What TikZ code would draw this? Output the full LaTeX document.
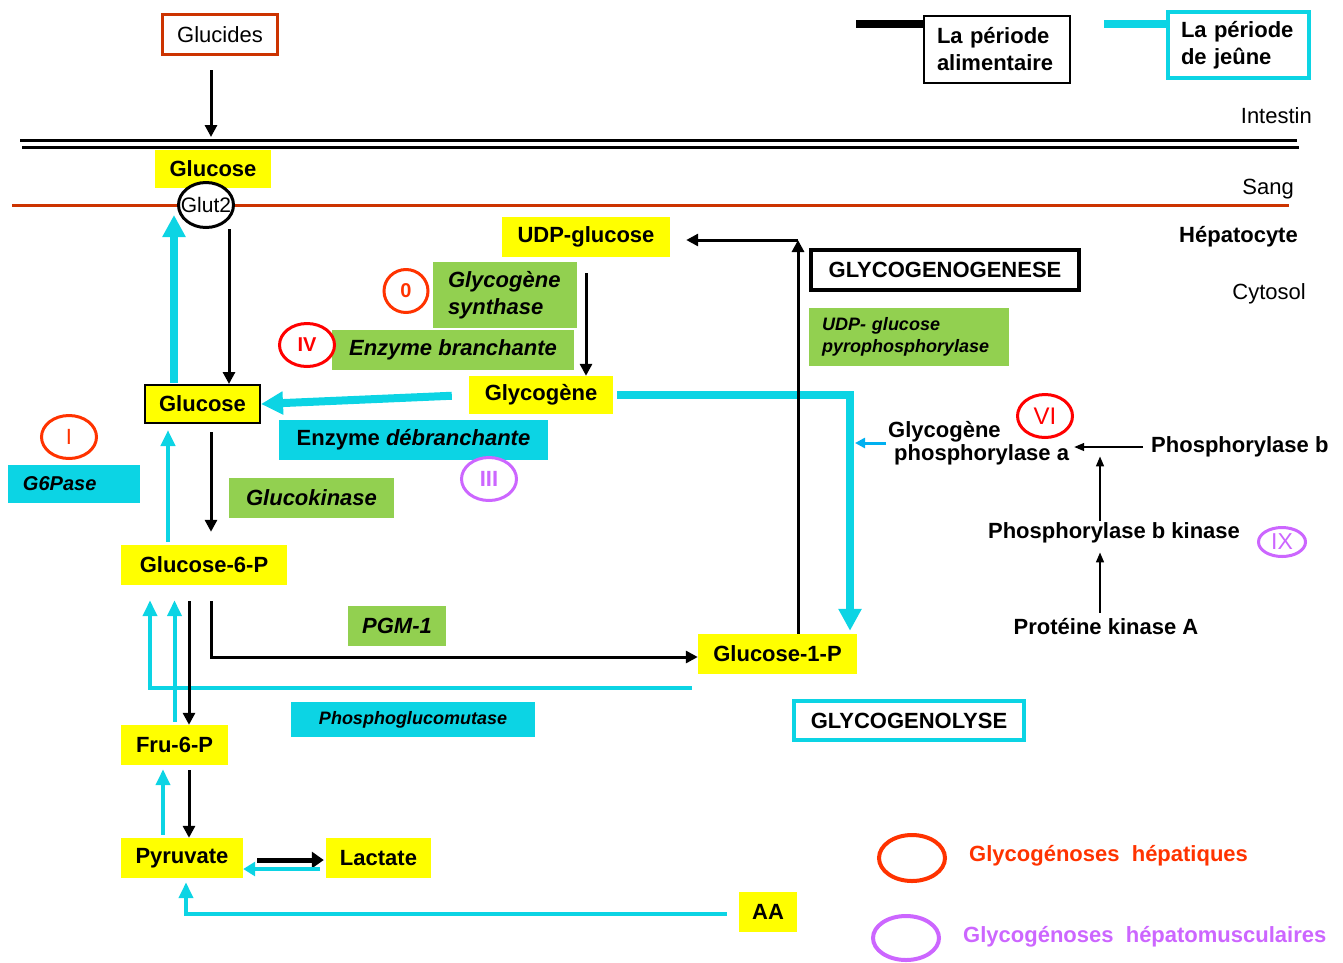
\documentclass[tikz,border=0pt]{standalone}
\usepackage{fontspec}
\setmainfont{Liberation Sans}
\usetikzlibrary{arrows.meta,shapes.geometric}

\definecolor{jaune}{HTML}{FFFF00}
\definecolor{vert}{HTML}{92D050}
\definecolor{cyanb}{HTML}{0CD4E4}
\definecolor{rouille}{HTML}{CC3300}
\definecolor{rougeor}{HTML}{FF3300}
\definecolor{rouge}{HTML}{FF0000}
\definecolor{mauve}{HTML}{CC66FF}
\definecolor{bleu}{HTML}{00B0F0}

\newcommand{\taille}[2]{\fontsize{#1}{#2}\selectfont}

\tikzset{
 metab/.style={fill=jaune, inner sep=0pt, font=\bfseries\taille{22}{26}},
 enz/.style={fill=vert, inner sep=0pt, font=\bfseries\itshape\taille{22}{27}},
 enzc/.style={fill=cyanb, inner sep=0pt, font=\bfseries\itshape\taille{22}{27}},
 maladie/.style={ellipse, draw, line width=3pt, fill=white, inner sep=0pt, font=\taille{22}{26}},
 txt/.style={font=\bfseries\taille{22}{26}, inner sep=2pt},
 noir/.style={line width=3pt, -{Triangle[length=12pt,width=12pt]}},
 noirfin/.style={line width=1.5pt, -{Triangle[length=10pt,width=8pt]}},
 cyanep/.style={cyanb, line width=8pt, -{Triangle[length=22pt,width=22pt]}},
 cyanfin/.style={cyanb, line width=4pt, -{Triangle[length=16pt,width=14pt]}}
}

\begin{document}
\begin{tikzpicture}[x=1pt,y=-1pt]
 \useasboundingbox (0,0) rectangle (1343,962);

 \coordinate (legA) at (856,24);
 \coordinate (legB) at (1104,24);
 \draw[line width=8pt] (legA) -- (1000,24);
 \draw[cyanb, line width=8pt] (legB) -- (1200,24);
 \node[txt, draw, fill=white, line width=2pt, minimum width=146pt, minimum height=67pt, align=left, text width=120pt, font=\bfseries\taille{22}{27}] (alim) at (997,49.5) {La période\\alimentaire};
 \node[txt, draw=cyanb, fill=white, line width=4pt, minimum width=141pt, minimum height=66pt, align=left, text width=115pt, font=\bfseries\taille{22}{27}] (jeune) at (1238.5,45) {La période\\de jeûne};

 \node[draw=rouille, line width=3pt, minimum width=115pt, minimum height=40pt, inner sep=0pt, font=\taille{22}{26}] (Glucides) at (220,34.5) {Glucides};

 \coordinate (int1) at (20,140);
 \draw[line width=3pt] (int1) -- (1297,140);
 \draw[line width=3pt] (22,147) -- (1299,147);
 \node[font=\taille{22}{26}, anchor=east, inner sep=0pt] (intestin) at (1312,116) {Intestin};
 \node[font=\taille{22}{26}, anchor=east, inner sep=0pt] (sang) at (1294,189) {Sang};
 \node[txt, anchor=east, inner sep=0pt] (hep) at (1298,237) {Hépatocyte};
 \node[font=\taille{22}{26}, anchor=east, inner sep=0pt] (cyto) at (1306,294) {Cytosol};

 \node[metab, minimum width=116pt, minimum height=38pt] (GlcS) at (213,169) {Glucose};
 \draw[rouille, line width=3pt] (12,205) -- (1289,205);
 \node[maladie, inner xsep=-7pt, minimum width=55pt, minimum height=45pt, font=\taille{21}{25}] (Glut2) at (206,205) {Glut2};

 \node[metab, draw=black, line width=2pt, minimum width=115pt, minimum height=38pt] (Glc) at (202.5,404) {Glucose};
 \node[metab, minimum width=168pt, minimum height=40pt] (UDPG) at (586,237) {UDP-glucose};
 \node[metab, minimum width=144pt, minimum height=38pt] (Glyg) at (541,395) {Glycogène};
 \node[metab, minimum width=166pt, minimum height=40pt] (G6P) at (204,565) {Glucose-6-P};
 \node[metab, minimum width=159pt, minimum height=40pt] (G1P) at (777.5,654) {Glucose-1-P};
 \node[metab, minimum width=107pt, minimum height=40pt] (F6P) at (174.5,745) {Fru-6-P};
 \node[metab, minimum width=122pt, minimum height=40pt] (Pyr) at (182,858) {Pyruvate};
 \node[metab, minimum width=105pt, minimum height=40pt] (Lac) at (378.5,858) {Lactate};
 \node[metab, minimum width=58pt, minimum height=40pt] (AA) at (768,912) {AA};

 \node[enz, inner xsep=15pt, text width=114pt, minimum height=66pt, align=left] (GS) at (505,295) {Glycogène\\synthase};
 \node[enz, minimum width=242pt, minimum height=40pt] (EB) at (453,350) {Enzyme branchante};
 \node[enzc, minimum width=269pt, minimum height=40pt, font=\bfseries\taille{22}{26}] (ED) at (413.5,440) {Enzyme \textit{débranchante}};
 \node[enz, minimum width=165pt, minimum height=40pt] (GK) at (311.5,498) {Glucokinase};
 \node[enzc, inner xsep=15pt, text width=102pt, minimum height=38pt, align=left, font=\bfseries\itshape\taille{20}{24}] (G6Pase) at (74,484) {G6Pase};
 \node[enz, minimum width=98pt, minimum height=40pt] (PGM) at (397,626) {PGM-1};
 \node[enzc, minimum width=244pt, minimum height=35pt, font=\bfseries\itshape\taille{18}{22}] (PGMut) at (413,719.5) {Phosphoglucomutase};
 \node[enz, inner xsep=13pt, text width=174pt, minimum height=58pt, align=left, font=\bfseries\itshape\taille{18}{22}] (UDPGP) at (909,337) {UDP- glucose\\pyrophosphorylase};

 \node[txt, draw, line width=4pt, minimum width=268pt, minimum height=40pt] (genese) at (945,270) {GLYCOGENOGENESE};
 \node[txt, draw=cyanb, line width=4pt, minimum width=230pt, minimum height=39pt] (lyse) at (909,720.5) {GLYCOGENOLYSE};

 \node[txt, align=left, anchor=west, font=\bfseries\taille{22}{23}] (GPa) at (886,443) {Glycogène\\\hspace*{6pt}phosphorylase a};
 \node[txt, anchor=west] (PhB) at (1149,447) {Phosphorylase b};
 \node[txt] (PhBK) at (1114,533) {Phosphorylase b kinase};
 \node[txt] (PKA) at (1106,627) {Protéine kinase A};

 \draw[noir, shorten <=14pt, shorten >=3pt] ([xshift=-9pt]Glucides.south) -- ([xshift=-9pt]Glucides.south |- int1);
 \draw[cyanep, shorten <=1pt, shorten >=10pt] ([xshift=-28.5pt]Glc.north) -- ([xshift=-28.5pt]Glc.north |- Glut2.center);
 \draw[noir] ([xshift=23pt]Glut2.south) -- ([xshift=23pt]Glut2.south |- Glc.north);

 \draw[cyanep, shorten <=17pt] (Glyg.west) -- (Glc.east);
 \draw[cyanep, shorten <=4pt, shorten >=3pt] (Glyg.east) -| ([xshift=72.5pt]G1P.north);
 \draw[bleu, line width=3pt, -{Triangle[length=10pt,width=10pt]}, shorten >=5pt] (GPa.west) -- ([xshift=72.5pt]G1P.north |- GPa.west);

 \coordinate (coin) at ([xshift=20.5pt,yshift=-3pt]G1P.north |- UDPG.east);
 \draw[noir] ([xshift=20.5pt]G1P.north) -- (coin);
 \draw[noir, shorten >=16pt] (coin) -- ([yshift=-3pt]UDPG.east);
 \draw[noir, shorten <=16pt] (UDPG.south) -- (UDPG.south |- Glyg.north);

 \draw[cyanfin, shorten <=3pt, shorten >=6pt] ([xshift=-36pt]G6P.north) -- ([xshift=-36pt]G6P.north |- Glc.south);
 \draw[noir, shorten <=8pt, shorten >=13pt] ([xshift=8.5pt]Glc.south) -- ([xshift=8.5pt]Glc.south |- G6P.north);

 \draw[noir, shorten <=16pt] ([xshift=7pt]G6P.south) |- ([yshift=-3pt]G1P.west);
 \draw[cyanfin, shorten >=15pt] ([xshift=-6pt,yshift=-14pt]G1P.south west) -| ([xshift=-54pt]G6P.south);
 \draw[cyanfin, shorten <=3pt, shorten >=15pt] (F6P.north) -- (F6P.north |- G6P.south);
 \draw[noir, shorten <=16pt] ([xshift=-15pt]G6P.south) -- ([xshift=-15pt]G6P.south |- F6P.north);

 \draw[cyanfin, shorten <=3pt, shorten >=4pt] ([xshift=-11.5pt]F6P.south |- Pyr.north) -- ([xshift=-11.5pt]F6P.south);
 \draw[noir, shorten <=5pt] ([xshift=14.5pt]F6P.south) -- ([xshift=14.5pt]F6P.south |- Pyr.north);

 \draw[line width=5pt, -{Triangle[length=12pt,width=16pt]}, shorten <=14pt, shorten >=2pt] ([yshift=-2pt]Pyr.east) -- ([yshift=-2pt]Lac.west);
 \draw[cyanfin, -{Triangle[length=12pt,width=14pt]}, shorten <=6pt] ([yshift=-11pt]Lac.west) -- ([yshift=-11pt]Pyr.east);
 \draw[cyanfin, shorten <=12pt, shorten >=4pt] ([yshift=-2pt]AA.west) -| ([xshift=4pt]Pyr.south);

 \draw[noirfin, shorten <=6pt, shorten >=3pt] (PhB.west) -- (PhB.west -| GPa.east);
 \draw[noirfin, shorten >=-3pt] ([xshift=-14pt]PhBK.north) -- ([xshift=-14pt]PhBK.north |- PhB.south);
 \draw[noirfin, shorten <=4pt, shorten >=7pt] ([xshift=-6pt]PKA.north) -- ([xshift=-6pt]PKA.north |- PhBK.south);

 \node[maladie, draw=rougeor, text=rougeor, minimum width=44pt, minimum height=43pt, font=\bfseries\taille{20}{24}] (m0) at (406,291) {0};
 \node[maladie, draw=rouge, text=rouge, minimum width=55pt, minimum height=43pt, font=\bfseries\taille{20}{24}] (m4) at (307,345) {IV};
 \node[maladie, draw=mauve, text=mauve, minimum width=55pt, minimum height=43pt, font=\bfseries\taille{22}{26}] (m3) at (489,479) {III};
 \node[maladie, draw=rouge, text=rouge, minimum width=55pt, minimum height=43pt, font=\taille{24}{28}] (m6) at (1045,416) {VI};
 \node[maladie, draw=mauve, text=mauve, minimum width=47pt, minimum height=29pt, font=\taille{23}{27}] (m9) at (1282,542) {IX};
 \node[maladie, draw=rougeor, text=rougeor, minimum width=55pt, minimum height=43pt] (m1) at (69,437) {I};

 \node[maladie, draw=rougeor, line width=4pt, minimum width=66pt, minimum height=46pt] (legH) at (912,858) {};
 \node[anchor=west, inner sep=0pt, text=rougeor, font=\bfseries\taille{22}{26}] (legHt) at (969,856) {Glycogénoses\ \ hépatiques};
 \node[maladie, draw=mauve, line width=4pt, minimum width=66pt, minimum height=44pt] (legM) at (906,938) {};
 \node[anchor=west, inner sep=0pt, text=mauve, font=\bfseries\taille{22}{26}] (legMt) at (963,937) {Glycogénoses\ \ hépatomusculaires};
\end{tikzpicture}
\end{document}
